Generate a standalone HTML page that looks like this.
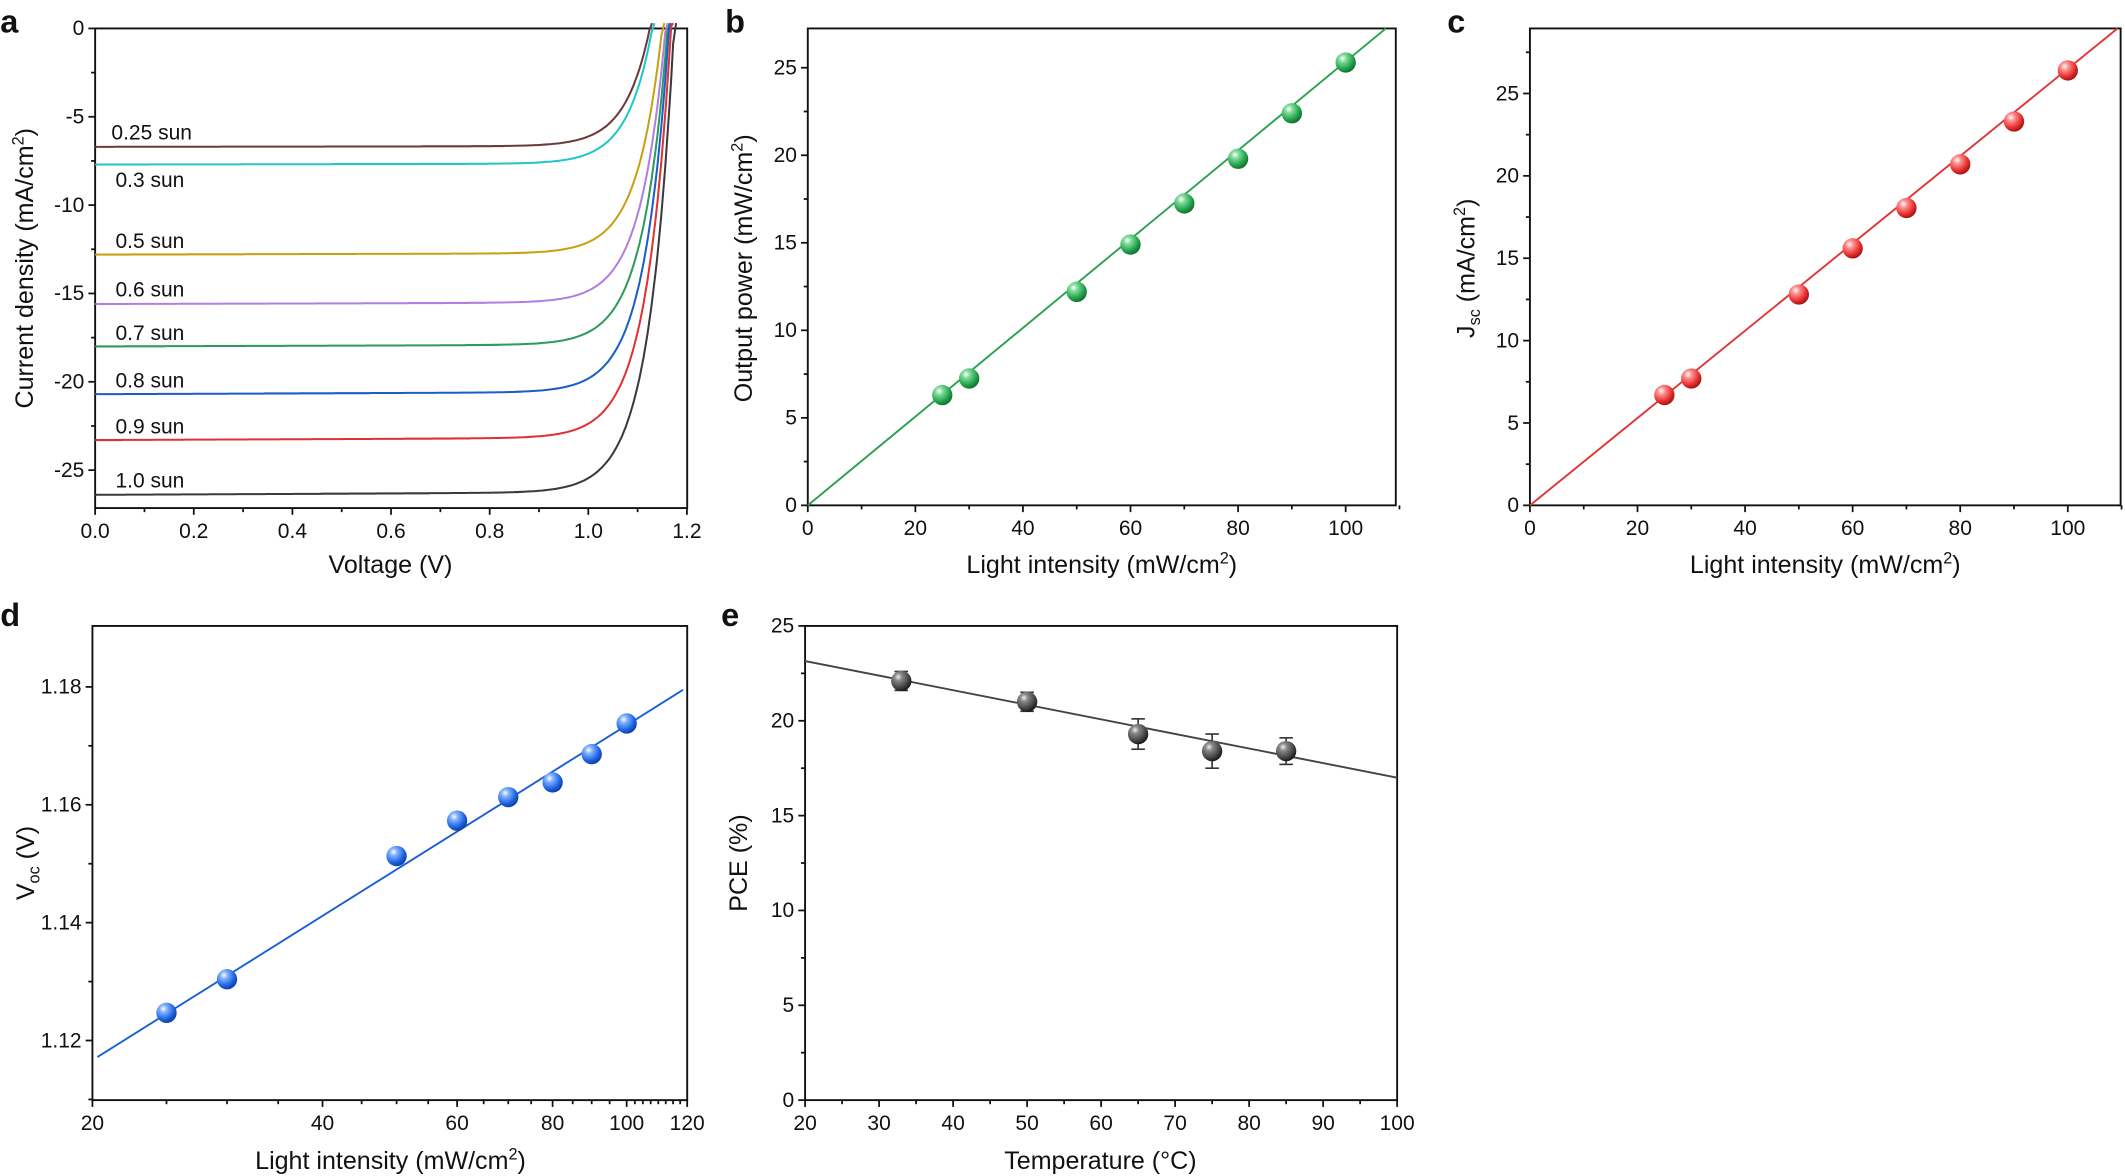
<!DOCTYPE html>
<html><head><meta charset="utf-8"><style>
html,body{margin:0;padding:0;background:#fff}
svg{display:block}
text{font-family:"Liberation Sans",sans-serif;fill:#111}
</style></head><body>
<svg id="s" xmlns="http://www.w3.org/2000/svg" width="2125" height="1176" viewBox="0 0 1568 868">
<defs>
<radialGradient id="gG" cx="0.35" cy="0.3" r="0.75"><stop offset="0" stop-color="#fff"/><stop offset="0.25" stop-color="#7fdc9a"/><stop offset="0.7" stop-color="#22a04a"/><stop offset="1" stop-color="#0c6a2a"/></radialGradient>
<radialGradient id="gR" cx="0.35" cy="0.3" r="0.75"><stop offset="0" stop-color="#fff"/><stop offset="0.25" stop-color="#ff9090"/><stop offset="0.7" stop-color="#e52c2c"/><stop offset="1" stop-color="#9a1010"/></radialGradient>
<radialGradient id="gB" cx="0.35" cy="0.3" r="0.75"><stop offset="0" stop-color="#fff"/><stop offset="0.25" stop-color="#80b0ff"/><stop offset="0.7" stop-color="#1c62e0"/><stop offset="1" stop-color="#0a3a9a"/></radialGradient>
<radialGradient id="gK" cx="0.35" cy="0.3" r="0.75"><stop offset="0" stop-color="#eee"/><stop offset="0.25" stop-color="#888"/><stop offset="0.7" stop-color="#444"/><stop offset="1" stop-color="#111"/></radialGradient>
</defs>
<g id="g"></g>
</svg>
<script>
var G=document.getElementById('g'),out='';
function L(x1,y1,x2,y2,c,w){out+='<line x1="'+x1+'" y1="'+y1+'" x2="'+x2+'" y2="'+y2+'" stroke="'+(c||'#111')+'" stroke-width="'+(w||1.3)+'"/>';}
function T(x,y,s,opt){opt=opt||{};out+='<text x="'+x+'" y="'+y+'" font-size="'+(opt.fs||15.5)+'" text-anchor="'+(opt.a||'middle')+'"'+(opt.b?' font-weight="bold"':'')+(opt.rot?' transform="rotate(-90 '+x+' '+y+')"':'')+'>'+s+'</text>';}
function box(x0,y0,x1,y1){out+='<rect x="'+x0+'" y="'+y0+'" width="'+(x1-x0)+'" height="'+(y1-y0)+'" fill="none" stroke="#111" stroke-width="1.4"/>';}
function ball(x,y,g){out+='<circle cx="'+x+'" cy="'+y+'" r="7.5" fill="url(#'+g+')"/>';}
function xt(x,y,lab,maj){L(x,y,x,y+(maj?5:3));if(lab!==null&&lab!==undefined)T(x,y+22,lab);}
function yt(x,y,lab,maj){L(x,y,x-(maj?5:3),y);if(lab!==null&&lab!==undefined)T(x-8,y+5,lab,{a:'end'});}
// Panel a
(function(){
var X=v=>70+v/0.2*72.8, Y=j=>21+(-j)/5*65.2;
box(70,21,507,375);
for(var i=0;i<=12;i++){var v=i*0.1;xt(X(v),375,i%2==0?v.toFixed(1):null,i%2==0);}
for(var k=0;k>=-27;k-=2.5){var maj=(k%5==0);yt(70,Y(k),maj?(k==0?'0':String(k)):null,maj);}
var cs=[[-6.7,1.125,'#6b3b3b'],[-7.7,1.13,'#22c6c6'],[-12.8,1.15,'#c9a010'],[-15.6,1.157,'#b07fe0'],[-18.0,1.161,'#2e9a5c'],[-20.7,1.164,'#1a5fc8'],[-23.3,1.168,'#e03232'],[-26.4,1.174,'#3a3a3a']];
cs.forEach(function(c){var jsc=-c[0],voc=c[1],a=0.05,d='';
for(var v=0;v<=1.2;v+=0.004){var j=-jsc*(1-0.006*v/voc)+(jsc)*Math.exp((v-voc)/a);if(j>0.3)break;d+=(d?'L':'M')+X(v).toFixed(1)+','+Y(j).toFixed(1);}
d+='L'+X(voc+0.004).toFixed(1)+','+Y(0.3).toFixed(1);
out+='<path d="'+d+'" fill="none" stroke="'+c[2]+'" stroke-width="1.5"/>';});
var labs=[['0.25 sun',82,103],['0.3 sun',85,138],['0.5 sun',85,183],['0.6 sun',85,219],['0.7 sun',85,251],['0.8 sun',85,286],['0.9 sun',85,320],['1.0 sun',85,360]];
labs.forEach(l=>T(l[1],l[2],l[0],{a:'start'}));
T(288,423,'Voltage (V)',{fs:18.5});
T(24,198,'Current density (mA/cm<tspan font-size="12" dy="-7">2</tspan><tspan dy="7">)</tspan>',{fs:18.5,rot:1});
T(0,24,'a',{fs:24,b:1,a:'start'});
})();
function lin(x0,x1,y0,y1,ys,pts,col,grad,lab,yl,letterX){
var X=v=>x0+v*3.97, Y=v=>y1-v*ys;
box(x0,y0,x1,y1);
for(var v=0;v<=110;v+=10){xt(X(v),y1,v%20==0?String(v):null,v%20==0);}
for(var v=0;Y(v)>=y0;v+=2.5){var maj=v%5==0;yt(x0,Y(v),maj?String(v):null,maj);}
var xe=110,ye=pts.slope*110; if(Y(ye)<y0){ye=(y1-y0)/ys;xe=ye/pts.slope;}
L(X(0),Y(0),X(xe),Y(ye),col,1.4);
pts.d.forEach(p=>ball(X(p[0]),Y(p[1]),grad));
T((x0+x1)/2,423,'Light intensity (mW/cm<tspan font-size="12" dy="-7">2</tspan><tspan dy="7">)</tspan>',{fs:18.5});
T(letterX+10,198,yl,{fs:18.5,rot:1});
T(letterX-10,24,lab,{fs:24,b:1,a:'start'});
}
lin(596,1030,21,373,12.92,{slope:0.2535,d:[[25,6.3],[30,7.25],[50,12.2],[60,14.9],[70,17.25],[80,19.8],[90,22.4],[100,25.3]]},'#2aa050','gG','b','Output power (mW/cm<tspan font-size="12" dy="-7">2</tspan><tspan dy="7">)</tspan>',545);
lin(1129,1565,21,373,12.16,{slope:0.265,d:[[25,6.7],[30,7.7],[50,12.8],[60,15.6],[70,18.05],[80,20.7],[90,23.3],[100,26.4]]},'#e03535','gR','c','J<tspan font-size="12" dy="4">sc</tspan><tspan dy="-4"> (mA/cm</tspan><tspan font-size="12" dy="-7">2</tspan><tspan dy="7">)</tspan>',1078);
(function(){
var X=v=>68+Math.log(v/20)*245, Y=v=>768-(v-1.12)/0.02*87;
box(68,462,507,812);
var maj={20:1,40:1,60:1,80:1,100:1,120:1};
for(var v=20;v<=120;v+=(v<100?5:2.5)){var m=maj[v];L(X(v),812,X(v),812+(m?5:3));if(m)T(X(v),812+22,String(v));}
for(var k=0;k<=7;k++){var v=1.11+k*0.01,m=(k%2==1);if(Y(v)<462)break;yt(68,Y(v),m?v.toFixed(2):null,m);}
L(X(20.3),Y(1.1172),X(118.5),Y(1.1795),'#1a5fd8',1.4);
[[25,1.1247],[30,1.1304],[50,1.1513],[60,1.1573],[70,1.1613],[80,1.1638],[90,1.1686],[100,1.1738]].forEach(p=>ball(X(p[0]),Y(p[1]),'gB'));
T(288,863,'Light intensity (mW/cm<tspan font-size="12" dy="-7">2</tspan><tspan dy="7">)</tspan>',{fs:18.5});
T(25,637,'V<tspan font-size="12" dy="4">oc</tspan><tspan dy="-4"> (V)</tspan>',{fs:18.5,rot:1});
T(0,462,'d',{fs:24,b:1,a:'start'});
})();
(function(){
var X=v=>594+(v-20)*5.4625, Y=v=>812-v*14;
box(594,462,1031,812);
for(var v=20;v<=100;v+=5){var m=v%10==0;xt(X(v),812,m?String(v):null,m);}
for(var v=0;v<=25;v+=2.5){var m=v%5==0;yt(594,Y(v),m?String(v):null,m);}
L(X(20),Y(23.15),X(100),Y(17.0),'#444',1.4);
[[33,22.1,0.5],[50,21.0,0.5],[65,19.3,0.8],[75,18.4,0.9],[85,18.4,0.7]].forEach(function(p){var x=X(p[0]);
L(x,Y(p[1]-p[2]),x,Y(p[1]+p[2]),'#333',1.2);L(x-5,Y(p[1]-p[2]),x+5,Y(p[1]-p[2]),'#333',1.2);L(x-5,Y(p[1]+p[2]),x+5,Y(p[1]+p[2]),'#333',1.2);ball(x,Y(p[1]),'gK');});
T(812,863,'Temperature (°C)',{fs:18.5});
T(551,637,'PCE (%)',{fs:18.5,rot:1});
T(532,462,'e',{fs:24,b:1,a:'start'});
})();
G.innerHTML=out;
</script>
</body></html>
